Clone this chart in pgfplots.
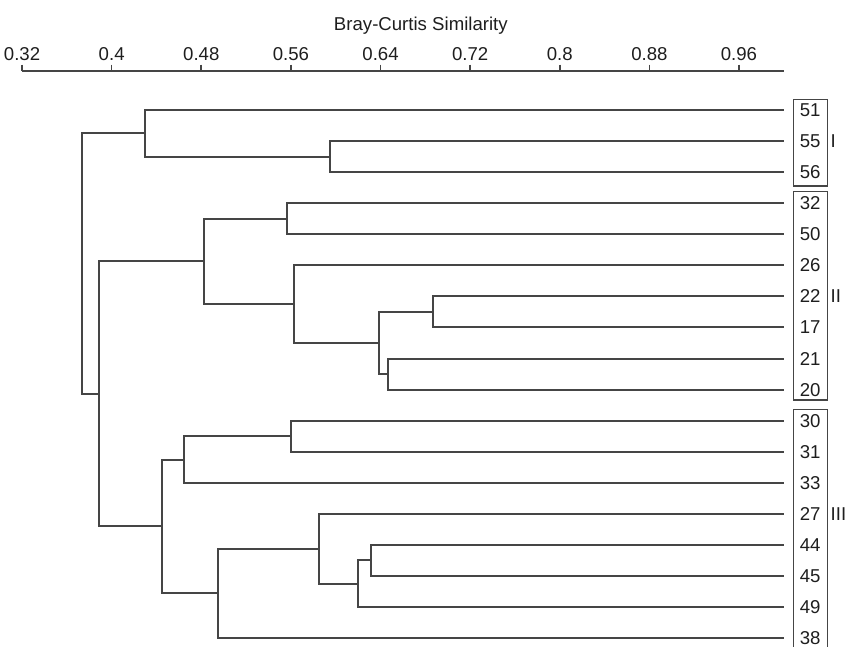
\documentclass[border=0pt]{standalone}
\usepackage{fontspec}
\setmainfont{Liberation Sans}
\usepackage{pgfplots}
\pgfplotsset{compat=1.18}

\definecolor{dline}{HTML}{454545}
\definecolor{txt}{HTML}{1E1E1E}

\begin{document}
\begin{tikzpicture}[font=\fontsize{9.3}{11}\selectfont]
\begin{axis}[
    scale only axis,
    width=380.65pt, height=287.7pt,
    xmin=0.32, xmax=1.0,
    ymin=-17.27, ymax=1.266,
    axis x line=top, axis y line=none,
    axis line style={-, draw=dline, line width=0.8pt},
    xtick={0.32,0.40,0.48,0.56,0.64,0.72,0.80,0.88,0.96},
    xticklabels={0.32,0.4,0.48,0.56,0.64,0.72,0.8,0.88,0.96},
    tick align=outside,
    major tick length=3pt,
    tick style={draw=dline, line width=0.8pt},
    ticklabel style={text=txt},
    xticklabel style={yshift=-1.5pt},
    clip=false,
    dend/.style={no markers, draw=dline, line width=1pt},
]
% leaves: 51 55 56 32 50 26 22 17 21 20 30 31 33 27 44 45 49 38 at y = 0,-1,...,-17
% group I
\addplot[dend] coordinates {(1,-1) (0.595,-1) (0.595,-2) (1,-2)};             % 55,56
\addplot[dend] coordinates {(1,0) (0.4294,0) (0.4294,-1.5) (0.595,-1.5)};      % 51 + (55,56)
% group II
\addplot[dend] coordinates {(1,-3) (0.5562,-3) (0.5562,-4) (1,-4)};            % 32,50
\addplot[dend] coordinates {(1,-6) (0.6865,-6) (0.6865,-7) (1,-7)};            % 22,17
\addplot[dend] coordinates {(1,-8) (0.647,-8) (0.647,-9) (1,-9)};              % 21,20
\addplot[dend] coordinates {(0.6865,-6.5) (0.639,-6.5) (0.639,-8.5) (0.647,-8.5)};
\addplot[dend] coordinates {(1,-5) (0.563,-5) (0.563,-7.5) (0.639,-7.5)};      % 26 + rest
\addplot[dend] coordinates {(0.5562,-3.5) (0.4825,-3.5) (0.4825,-6.25) (0.563,-6.25)};
% group III
\addplot[dend] coordinates {(1,-10) (0.5598,-10) (0.5598,-11) (1,-11)};        % 30,31
\addplot[dend] coordinates {(0.5598,-10.5) (0.4646,-10.5) (0.4646,-12) (1,-12)}; % + 33
\addplot[dend] coordinates {(1,-14) (0.6314,-14) (0.6314,-15) (1,-15)};        % 44,45
\addplot[dend] coordinates {(0.6314,-14.5) (0.6198,-14.5) (0.6198,-16) (1,-16)}; % + 49
\addplot[dend] coordinates {(1,-13) (0.5854,-13) (0.5854,-15.25) (0.6198,-15.25)}; % 27 + rest
\addplot[dend] coordinates {(0.5854,-14.125) (0.4945,-14.125) (0.4945,-17) (1,-17)}; % + 38
\addplot[dend] coordinates {(0.4646,-11.25) (0.4453,-11.25) (0.4453,-15.5625) (0.4945,-15.5625)};
% upper joins
\addplot[dend] coordinates {(0.4825,-4.875) (0.3886,-4.875) (0.3886,-13.406) (0.4453,-13.406)};
\addplot[dend] coordinates {(0.4294,-0.75) (0.3733,-0.75) (0.3733,-9.14) (0.3886,-9.14)};

% title
\node[text=txt] at (axis cs:0.676,2.72) {Bray-Curtis Similarity};

% leaf labels
\node[text=txt] at (axis cs:1.0236,0) {51};
\node[text=txt] at (axis cs:1.0236,-1) {55};
\node[text=txt] at (axis cs:1.0236,-2) {56};
\node[text=txt] at (axis cs:1.0236,-3) {32};
\node[text=txt] at (axis cs:1.0236,-4) {50};
\node[text=txt] at (axis cs:1.0236,-5) {26};
\node[text=txt] at (axis cs:1.0236,-6) {22};
\node[text=txt] at (axis cs:1.0236,-7) {17};
\node[text=txt] at (axis cs:1.0236,-8) {21};
\node[text=txt] at (axis cs:1.0236,-9) {20};
\node[text=txt] at (axis cs:1.0236,-10) {30};
\node[text=txt] at (axis cs:1.0236,-11) {31};
\node[text=txt] at (axis cs:1.0236,-12) {33};
\node[text=txt] at (axis cs:1.0236,-13) {27};
\node[text=txt] at (axis cs:1.0236,-14) {44};
\node[text=txt] at (axis cs:1.0236,-15) {45};
\node[text=txt] at (axis cs:1.0236,-16) {49};
\node[text=txt] at (axis cs:1.0236,-17) {38};

% group boxes and numerals
\draw[dline, line width=0.7pt] (axis cs:1.0086,0.345) rectangle (axis cs:1.0388,-2.45);
\draw[dline, line width=0.7pt] (axis cs:1.0086,-2.63) rectangle (axis cs:1.0388,-9.34);
\draw[dline, line width=0.7pt] (axis cs:1.0086,-9.64) rectangle (axis cs:1.0388,-17.6);
\node[text=txt, anchor=west, inner sep=0pt] at (axis cs:1.0415,-1) {I};
\node[text=txt, anchor=west, inner sep=0pt] at (axis cs:1.0415,-6) {II};
\node[text=txt, anchor=west, inner sep=0pt] at (axis cs:1.0415,-13) {III};

\coordinate (bbA) at (axis cs:0.3003,3.544);
\coordinate (bbB) at (axis cs:1.0591,-17.268);
\end{axis}
\pgfresetboundingbox
\path[use as bounding box] (bbA) rectangle (bbB);
\end{tikzpicture}
\end{document}
